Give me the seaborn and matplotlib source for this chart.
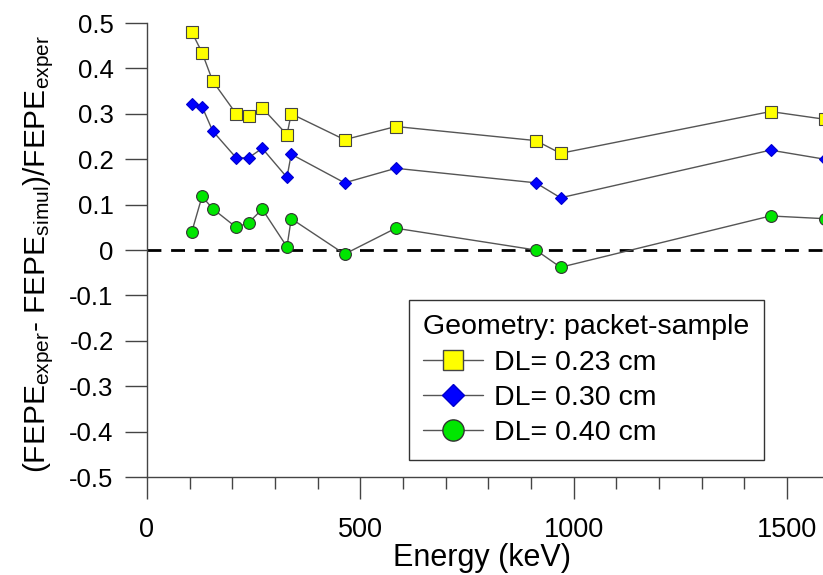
import numpy as np
import pandas as pd
import matplotlib
matplotlib.use("Agg")
import matplotlib.pyplot as plt
from matplotlib.lines import Line2D
from matplotlib.ticker import MultipleLocator
import seaborn as sns

sns.set_style("ticks")
plt.rcParams['font.family'] = ['Liberation Sans', 'DejaVu Sans']
plt.rcParams['mathtext.fontset'] = 'custom'
plt.rcParams['mathtext.rm'] = 'Liberation Sans'
plt.rcParams['mathtext.it'] = 'Liberation Sans'
plt.rcParams['text.color'] = 'black'
plt.rcParams['axes.labelcolor'] = 'black'

# energies (keV) of the gamma lines
energy = [105, 129, 154, 209, 238, 270, 328, 338, 463, 583, 911, 969, 1461, 1588]

# relative difference for each detector dead layer
dl_023 = [0.480, 0.435, 0.372, 0.300, 0.296, 0.313, 0.254, 0.300, 0.243, 0.272, 0.241, 0.213, 0.305, 0.288]
dl_030 = [0.322, 0.316, 0.262, 0.203, 0.203, 0.224, 0.160, 0.211, 0.148, 0.180, 0.148, 0.115, 0.220, 0.200]
dl_040 = [0.040, 0.118, 0.091, 0.050, 0.060, 0.090, 0.007, 0.069, -0.009, 0.048, 0.000, -0.038, 0.075, 0.069]

labels = ['DL= 0.23 cm', 'DL= 0.30 cm', 'DL= 0.40 cm']

fig = plt.figure(figsize=(8.23, 5.75), dpi=100)
ax = fig.add_axes([0.1786, 0.1704, 0.8214, 0.7896])

# zero reference line
ax.axhline(0, color='black', lw=2, ls=(0, (5, 3.5)), zorder=1)

styles = [
    (dl_023, 's', '#ffff00', '#444444', 8),
    (dl_030, 'D', '#0000ff', '#0000cc', 6.5),
    (dl_040, 'o', '#00e600', '#333333', 8.5),
]
for vals, mk, fc, ec, ms in styles:
    sns.lineplot(x=energy, y=vals, ax=ax, color='#555555', lw=1, marker=mk,
                 markerfacecolor=fc, markeredgecolor=ec, markeredgewidth=0.8,
                 markersize=ms, zorder=3)

ax.set_xlim(0, 1584)
ax.set_ylim(-0.5, 0.5)
ax.xaxis.set_major_locator(MultipleLocator(500))
ax.xaxis.set_minor_locator(MultipleLocator(100))
ax.set_yticks(np.arange(-0.5, 0.51, 0.1))
ax.set_yticklabels(['-0.5', '-0.4', '-0.3', '-0.2', '-0.1', '0', '0.1', '0.2', '0.3', '0.4', '0.5'])

sns.despine(ax=ax)
for sp in ['left', 'bottom']:
    ax.spines[sp].set_color('#444444')
    ax.spines[sp].set_linewidth(1)
ax.tick_params(axis='x', which='major', length=16, width=1, color='#444444',
               labelcolor='black', labelsize=19.5, pad=13)
ax.tick_params(axis='x', which='minor', length=8.5, width=1, color='#444444')
ax.tick_params(axis='y', which='major', length=16, width=1, color='#444444',
               labelcolor='black', labelsize=18.5, pad=8)

ax.set_xlabel('Energy (keV)', fontsize=22)
ax.xaxis.set_label_coords(0.495, -0.145)
ax.set_ylabel(r'(FEPE$_{\mathrm{exper}}$- FEPE$_{\mathrm{simul}}$)/FEPE$_{\mathrm{exper}}$', fontsize=21.5)
ax.yaxis.set_label_coords(-0.135, 0.491)

handles = []
for (vals, mk, fc, ec, ms), lab in zip(styles, labels):
    handles.append(Line2D([], [], color='#555555', lw=1, marker=mk, markerfacecolor=fc,
                          markeredgecolor=ec, markersize=ms * 1.8, label=lab))
leg = ax.legend(handles=handles, title='Geometry: packet-sample', loc='lower left',
                bbox_to_anchor=(0.3876, 0.0374), borderaxespad=0, fontsize=20.5,
                title_fontsize=20.5, alignment='left', fancybox=False, frameon=True,
                edgecolor='#333333', framealpha=1, handlelength=2.1, handletextpad=0.4,
                labelspacing=0.32, borderpad=0.5)
leg.get_frame().set_linewidth(1)

fig.savefig('out.png', dpi=100)
